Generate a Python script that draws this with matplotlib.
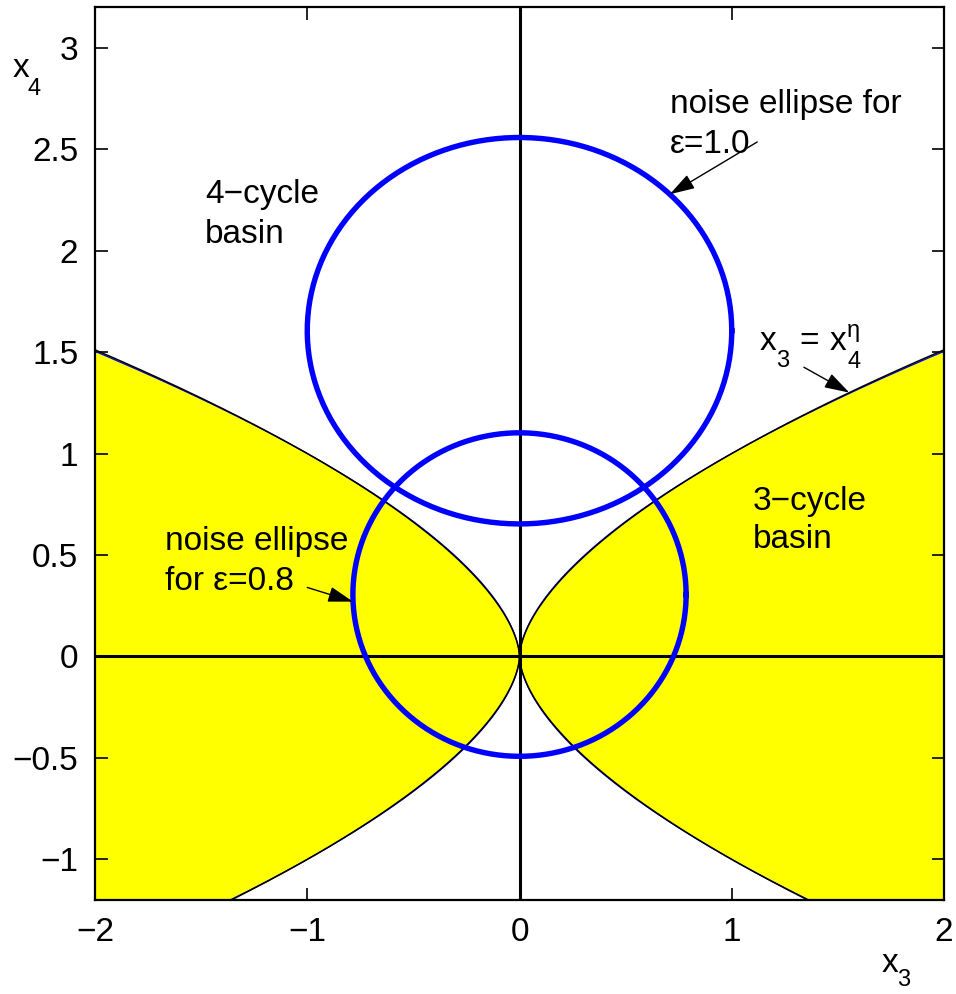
import numpy as np
import matplotlib
matplotlib.use("Agg")
import matplotlib.pyplot as plt

plt.rcParams['font.family'] = ['Liberation Sans', 'DejaVu Sans']

# basin boundary exponent: x3 = x4^eta
eta = 1.68
eta_numeric = 1.70

# noise ellipses: (center x3, center x4, half-width, half-height)
ellipse_eps10 = (0.0, 1.605, 1.0, 0.952)
ellipse_eps08 = (0.0, 0.305, 0.785, 0.797)

x_ticks = [-2, -1, 0, 1, 2]
x_ticklabels = ['\u22122', '\u22121', '0', '1', '2']
y_ticks = [-1, -0.5, 0, 0.5, 1, 1.5, 2, 2.5, 3]
y_ticklabels = ['\u22121', '\u22120.5', '0', '0.5', '1', '1.5', '2', '2.5', '3']
xlim = (-2, 2)
ylim = (-1.2, 3.2)

W, H = 956, 994
fig = plt.figure(figsize=(W / 100, H / 100), dpi=100)
ax = fig.add_axes([95 / W, 94 / H, 849 / W, 893 / H])

# 3-cycle basin (yellow) bounded by |x3| = |x4|^eta
y = np.linspace(ylim[0], ylim[1], 2000)
bx = np.minimum(np.abs(y) ** eta, 2.0)
ax.fill_betweenx(y, -2, -bx, color=(1, 1, 0), lw=0, zorder=1)
ax.fill_betweenx(y, bx, 2, color=(1, 1, 0), lw=0, zorder=1)

bn = np.abs(y) ** eta_numeric
ax.plot(bn, y, color='blue', lw=0.9, zorder=2)
ax.plot(-bn, y, color='blue', lw=0.9, zorder=2)
ax.plot(np.abs(y) ** eta, y, color='black', lw=1.1, zorder=3)
ax.plot(-np.abs(y) ** eta, y, color='black', lw=1.1, zorder=3)

# coordinate axes
ax.axhline(0, color='black', lw=2.2, zorder=4)
ax.axvline(0, color='black', lw=2.2, zorder=4)

# noise ellipses
t = np.linspace(0, 2 * np.pi, 300)
for cx, cy, a, b in (ellipse_eps10, ellipse_eps08):
    ax.plot(cx + a * np.cos(t), cy + b * np.sin(t), color='blue', lw=3.9,
            zorder=5, solid_joinstyle='round')

ax.set_xlim(*xlim)
ax.set_ylim(*ylim)
ax.set_xticks(x_ticks)
ax.set_xticklabels(x_ticklabels)
ax.set_yticks(y_ticks)
ax.set_yticklabels(y_ticklabels)
ax.tick_params(direction='in', length=9, width=1.2, labelsize=24,
               top=True, right=True, pad=12)
for s in ax.spines.values():
    s.set_linewidth(1.6)
    s.set_zorder(6)

fs = 24
fs_sub = 17


def put(px, py, s, size=fs):
    """Place text with its left baseline at pixel (px, py) from the top-left."""
    fig.text(px / W, 1 - py / H, s, fontsize=size, ha='left', va='baseline',
             zorder=7)


put(205, 203, '4\u2212cycle')
put(205, 243, 'basin')
put(753, 510, '3\u2212cycle')
put(753, 548, 'basin')
put(670, 113, 'noise ellipse for')
put(670, 153, '\u03b5=1.0')
put(165, 550, 'noise ellipse')
put(165, 590, 'for \u03b5=0.8')

# x3 = x4^eta
put(760, 350, 'x')
put(776, 367, '3', fs_sub)
put(799, 350, '=')
put(830, 350, 'x')
put(847, 337, '\u03b7', fs_sub)
put(847, 368, '4', fs_sub)

# axis labels
put(13, 77, 'x')
put(28, 95, '4', fs_sub)
put(882, 972, 'x')
put(897, 986, '3', fs_sub)

arrow = dict(arrowstyle='-|>,head_length=0.55,head_width=0.17', color='black',
             lw=1.0, mutation_scale=28, shrinkA=0, shrinkB=0)

# arrow tips land on the marks they point to
cx, cy, a, b = ellipse_eps10
tx = 0.708
ax.annotate('', xy=(tx, cy + b * np.sqrt(1 - (tx / a) ** 2)), xytext=(1.12, 2.535),
            arrowprops=arrow, zorder=8)
cx, cy, a, b = ellipse_eps08
ty = 0.27
ax.annotate('', xy=(-a * np.sqrt(1 - ((ty - cy) / b) ** 2), ty), xytext=(-1.0, 0.34),
            arrowprops=arrow, zorder=8)
ty = 1.30
ax.annotate('', xy=(ty ** eta, ty), xytext=(1.34, 1.425),
            arrowprops=arrow, zorder=8)

fig.savefig('out.png', dpi=100)
